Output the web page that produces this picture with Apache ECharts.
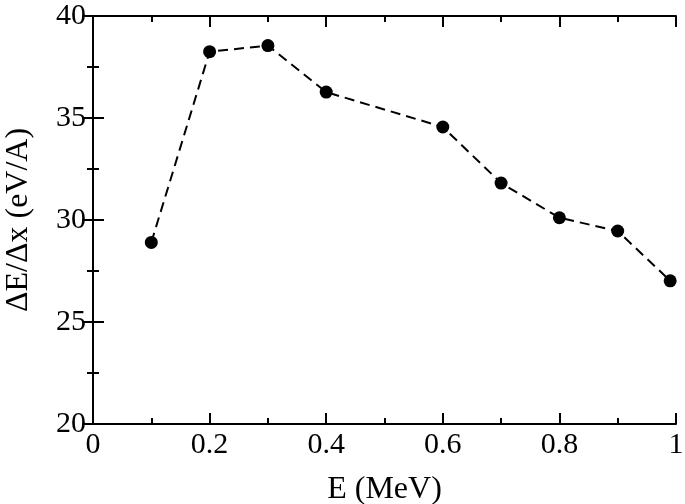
<!DOCTYPE html>
<html>
<head>
<meta charset="utf-8">
<script src="https://cdn.jsdelivr.net/npm/echarts@6/dist/echarts.min.js"></script>
<style>
  html, body { margin: 0; padding: 0; background: #fff; }
  #main { width: 685px; height: 504px; }
</style>
</head>
<body>
<div id="main"></div>
<script>
// energy (MeV) and stopping power dE/dx (eV/A)
var energy = [0.1, 0.2, 0.3, 0.4, 0.6, 0.7, 0.8, 0.9, 0.99];
var stopping = [28.9, 38.25, 38.55, 36.27, 34.56, 31.81, 30.11, 29.46, 27.02];

var points = energy.map(function (e, i) { return [e, stopping[i]]; });

var font = "'Liberation Serif', 'DejaVu Serif', serif";
var axisLine = { show: true, lineStyle: { color: "#000", width: 2 } };

// common axis settings (ticks inside, minor ticks between majors)
function xAx(pos, labels) {
  return {
    type: "value", position: pos, min: 0, max: 1, interval: 0.2,
    axisLine: axisLine,
    axisTick: { show: true, inside: true, length: 11, lineStyle: { color: "#000", width: 2 } },
    minorTick: { show: true, splitNumber: 2, length: 6, lineStyle: { color: "#000", width: 2 } },
    splitLine: { show: false },
    axisLabel: {
      show: labels, color: "#000", fontFamily: font, fontSize: 30, margin: 6,
      formatter: function (v) { return String(+v.toFixed(1)); }
    },
    name: labels ? "E (MeV)" : "", nameLocation: "middle", nameGap: 50,
    nameTextStyle: { color: "#000", fontFamily: font, fontSize: 32 }
  };
}
function yAx(pos, labels) {
  return {
    type: "value", position: pos, min: 20, max: 40, interval: 5,
    axisLine: axisLine,
    axisTick: { show: true, inside: true, length: 11, lineStyle: { color: "#000", width: 2 } },
    minorTick: { show: true, splitNumber: 2, length: 6, lineStyle: { color: "#000", width: 2 } },
    splitLine: { show: false },
    axisLabel: { show: labels, color: "#000", fontFamily: font, fontSize: 30, margin: 7 },
    name: labels ? "ΔE/Δx (eV/A)" : "", nameLocation: "middle", nameGap: 58,
    nameTextStyle: { color: "#000", fontFamily: font, fontSize: 32 }
  };
}

var myChart = echarts.init(document.getElementById("main"));
myChart.setOption({
  animation: false,
  backgroundColor: "#fff",
  grid: { left: 93, right: 9, top: 16, bottom: 80, containLabel: false, outerBoundsMode: "none" },
  xAxis: [xAx("bottom", true), xAx("top", false)],
  yAxis: [yAx("left", true), yAx("right", false)],
  series: [
    {
      type: "line",
      data: points,
      symbol: "circle",
      symbolSize: 13,
      itemStyle: { color: "#000" },
      lineStyle: { color: "#000", width: 2, type: [10, 6] }
    }
  ]
});
</script>
</body>
</html>
